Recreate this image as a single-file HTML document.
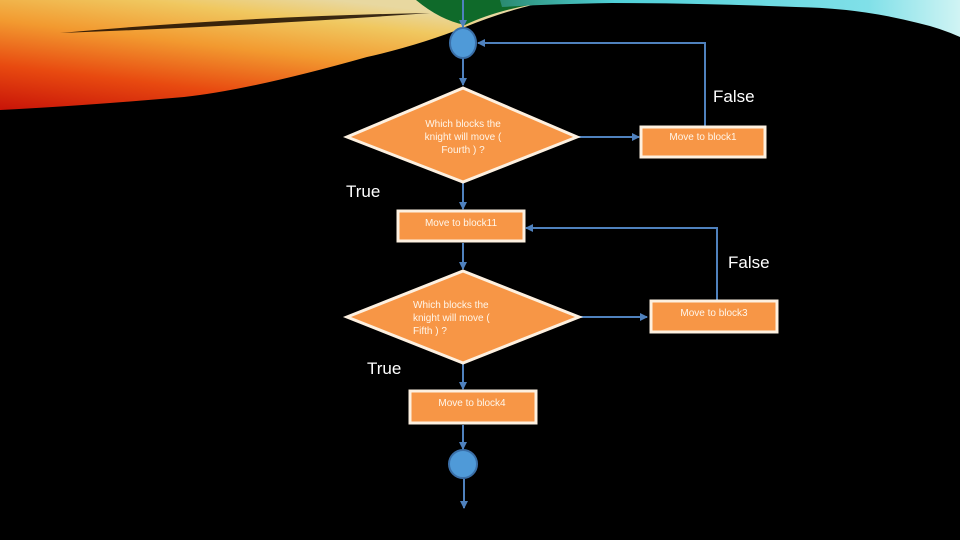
<!DOCTYPE html>
<html><head><meta charset="utf-8"><style>
html,body{margin:0;padding:0;background:#000;}
svg{display:block;}
</style></head><body>
<svg width="960" height="540" viewBox="0 0 960 540" xmlns="http://www.w3.org/2000/svg">
<defs>
<linearGradient id="sw" x1="0" y1="1" x2="0.6" y2="0">
<stop offset="0" stop-color="#c81408"/>
<stop offset="0.3" stop-color="#e84a10"/>
<stop offset="0.6" stop-color="#f29a30"/>
<stop offset="0.85" stop-color="#f0c860"/>
<stop offset="1" stop-color="#e8d8a0"/>
</linearGradient>
<linearGradient id="cy" x1="0" y1="0" x2="1" y2="0">
<stop offset="0" stop-color="#2a8a70"/>
<stop offset="0.25" stop-color="#50d0d8"/>
<stop offset="0.8" stop-color="#80e0e8"/>
<stop offset="1" stop-color="#d0f4f4"/>
</linearGradient>
<marker id="ar" markerWidth="8" markerHeight="8" refX="7" refY="4" orient="auto" markerUnits="userSpaceOnUse">
<path d="M0,0 L8,4 L0,8 z" fill="#4f81bd"/>
</marker>
</defs>
<!-- background swooshes -->
<path d="M0,0 L560,0 Q520,5 465,27 Q420,45 367,57 Q250,90 184,97 Q80,106 0,110 Z" fill="url(#sw)"/>
<path d="M60,33 Q250,16 430,13 Q250,26 60,33Z" fill="#1a0a00" opacity="0.85"/>
<path d="M416,0 L560,0 Q500,8 465,25 Q440,20 416,0Z" fill="#0f6a2a"/>
<path d="M500,0 L960,0 L960,37 Q940,28 918,23 Q860,8 796,7 Q700,3 612,3 Q550,4 502,7 Z" fill="url(#cy)"/>

<g stroke="#4f81bd" stroke-width="2" fill="none">
<line x1="463" y1="0" x2="463" y2="27" marker-end="url(#ar)"/>
<line x1="463" y1="58" x2="463" y2="85" marker-end="url(#ar)"/>
<polyline points="705,126 705,43 478,43" marker-end="url(#ar)"/>
<line x1="578" y1="137" x2="639" y2="137" marker-end="url(#ar)"/>
<line x1="463" y1="183" x2="463" y2="209" marker-end="url(#ar)"/>
<polyline points="717,300 717,228 526,228" marker-end="url(#ar)"/>
<line x1="463" y1="243" x2="463" y2="269" marker-end="url(#ar)"/>
<line x1="580" y1="317" x2="647" y2="317" marker-end="url(#ar)"/>
<line x1="463" y1="364" x2="463" y2="389" marker-end="url(#ar)"/>
<line x1="463" y1="425" x2="463" y2="449" marker-end="url(#ar)"/>
<line x1="464" y1="479" x2="464" y2="508" marker-end="url(#ar)"/>
</g>

<ellipse cx="463" cy="43" rx="13" ry="15" fill="#4f9ad8" stroke="#3a6fa8" stroke-width="2"/>
<ellipse cx="463" cy="464" rx="14" ry="14" fill="#4f9ad8" stroke="#3a6fa8" stroke-width="2"/>

<g fill="#f79646" stroke="#fdf0e0" stroke-width="3">
<polygon points="463,88 577,137 463,182 347,137"/>
<polygon points="463,271 579,317 463,363 347,317"/>
<rect x="641" y="127" width="124" height="30"/>
<rect x="398" y="211" width="126" height="30"/>
<rect x="651" y="301" width="126" height="31"/>
<rect x="410" y="391" width="126" height="32"/>
</g>

<g font-family="Liberation Sans, sans-serif" fill="#fff6ea" font-size="10">
<text x="463" y="127" text-anchor="middle">Which blocks the</text>
<text x="463" y="140" text-anchor="middle">knight will move (</text>
<text x="463" y="153" text-anchor="middle">Fourth ) ?</text>
<text x="703" y="140" text-anchor="middle">Move to block1</text>
<text x="461" y="226" text-anchor="middle">Move to block11</text>
<text x="413" y="308">Which blocks the</text>
<text x="413" y="321">knight will move (</text>
<text x="413" y="334">Fifth ) ?</text>
<text x="714" y="316" text-anchor="middle">Move to block3</text>
<text x="472" y="406" text-anchor="middle">Move to block4</text>
</g>
<g font-family="Liberation Sans, sans-serif" fill="#fff" font-size="17">
<text x="713" y="102">False</text>
<text x="346" y="197">True</text>
<text x="728" y="268">False</text>
<text x="367" y="374">True</text>
</g>
</svg>
</body></html>
